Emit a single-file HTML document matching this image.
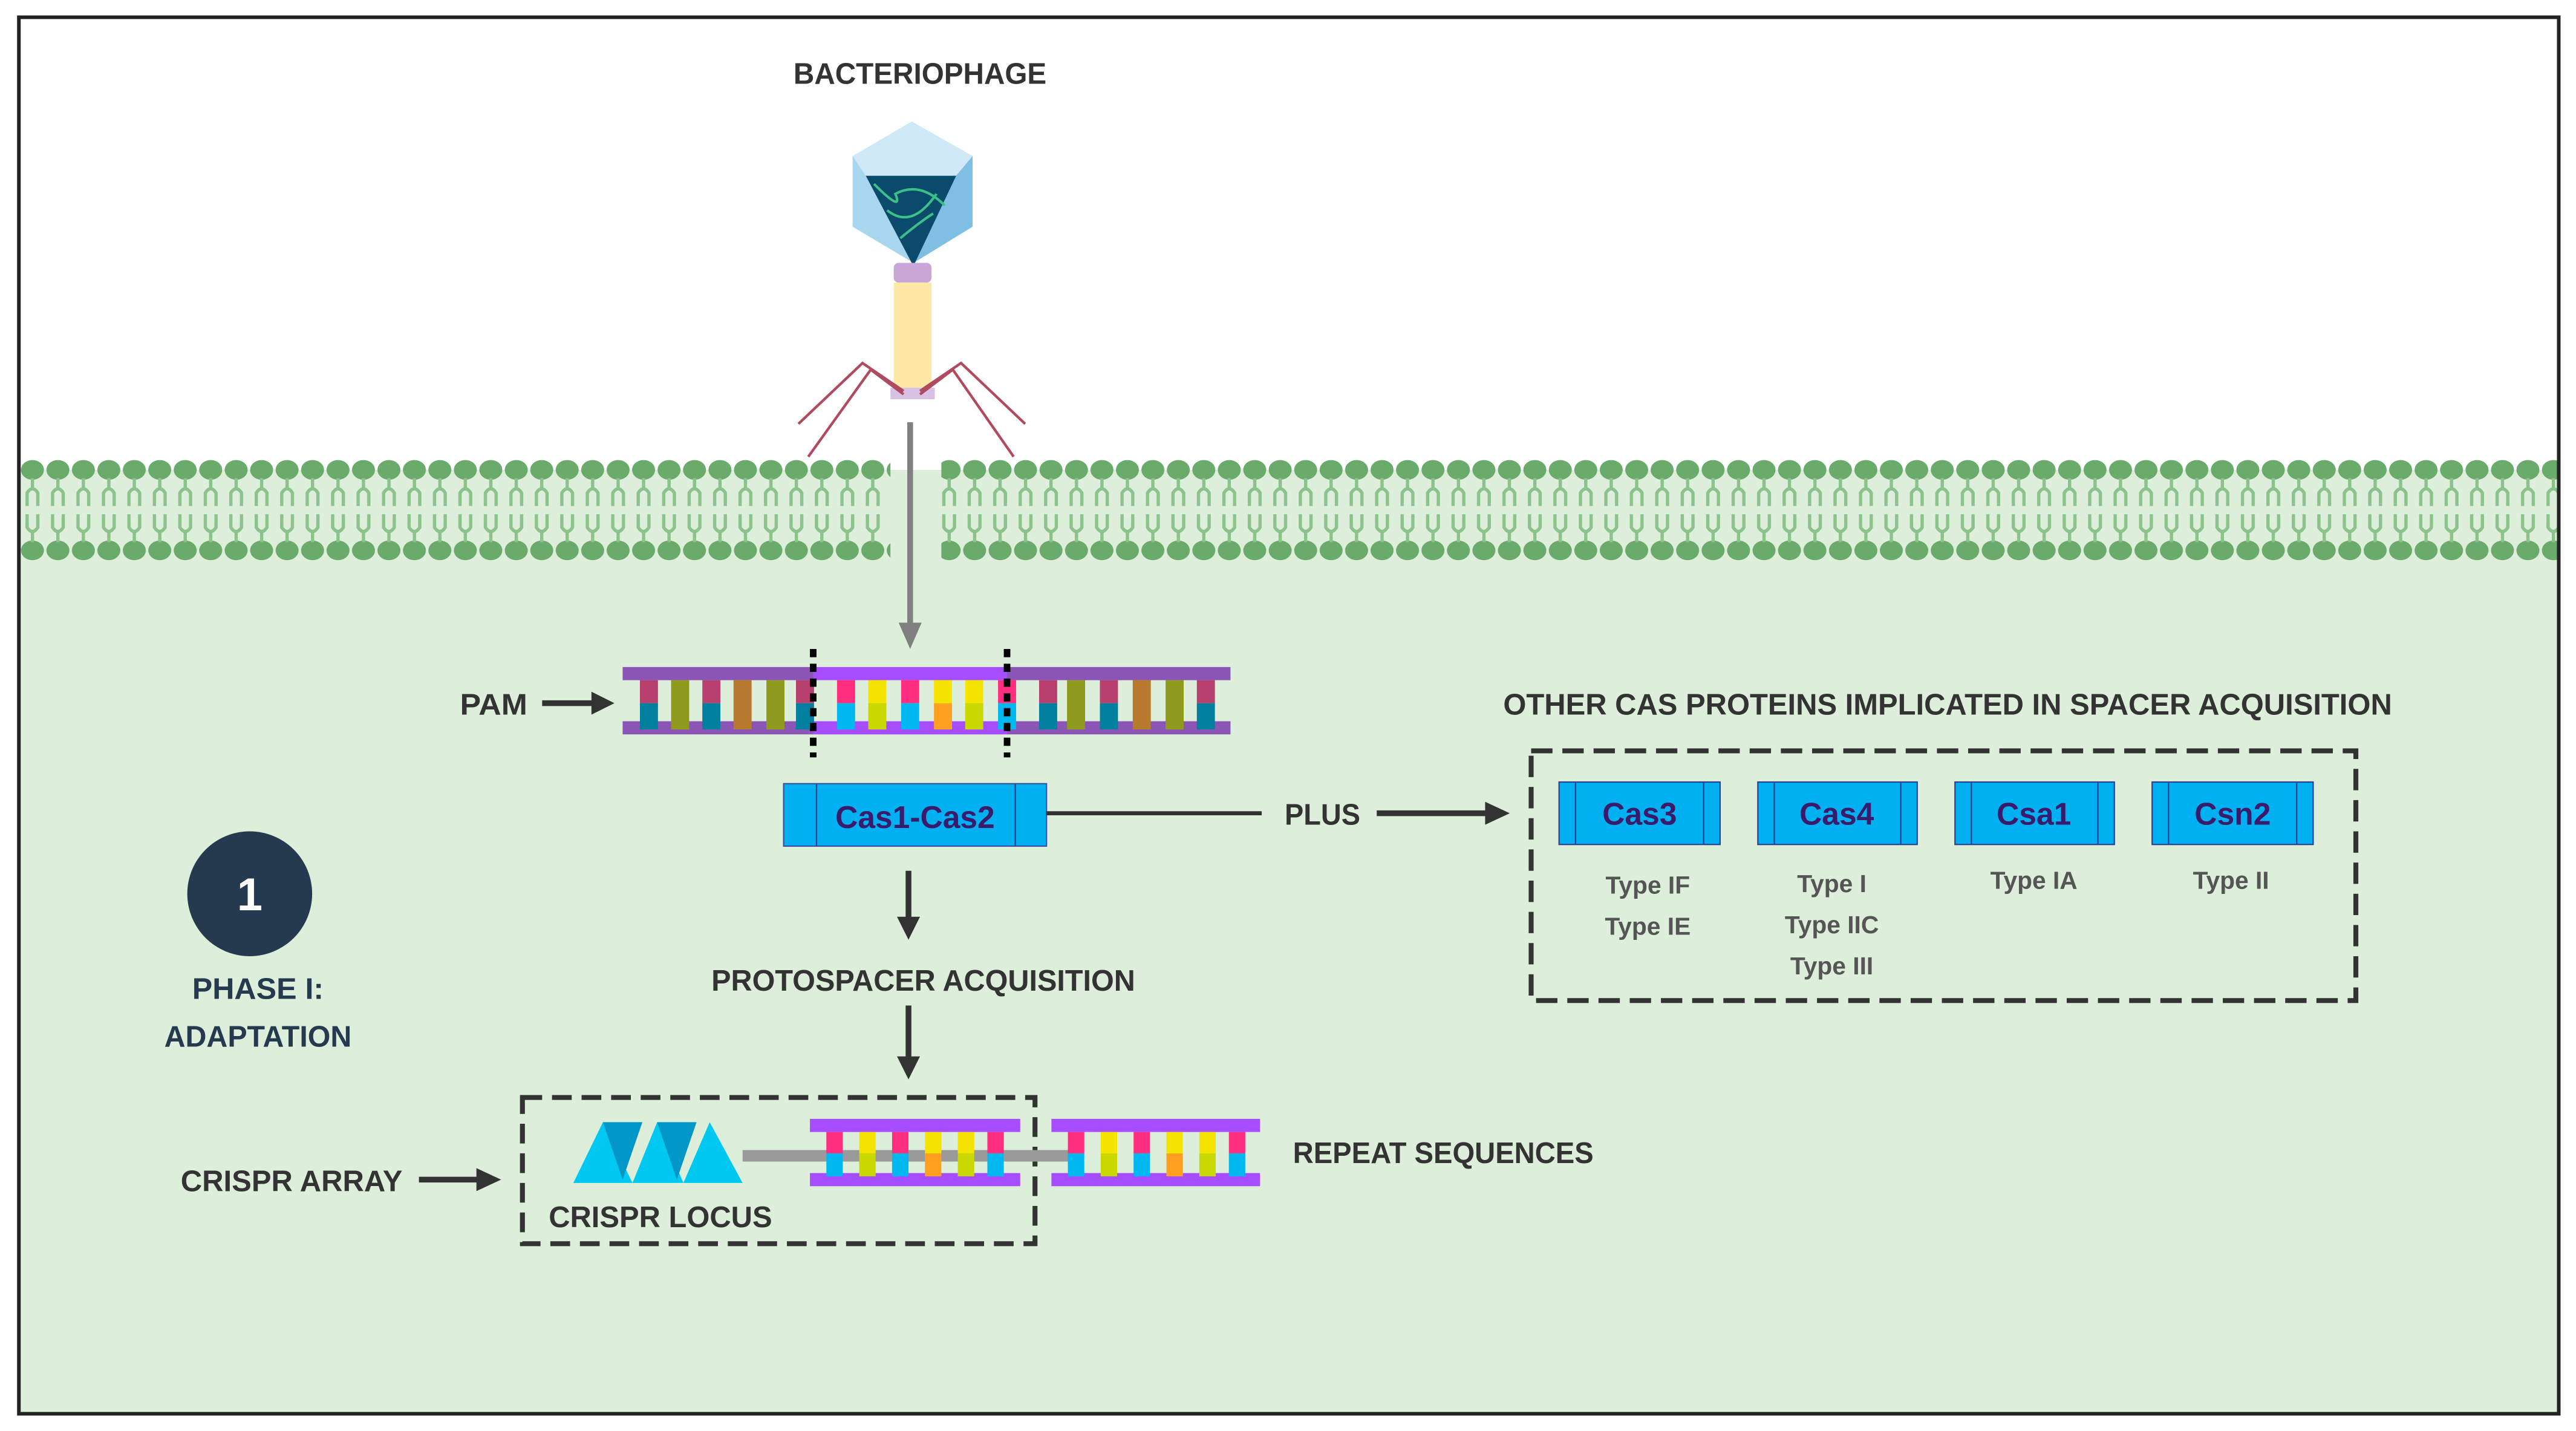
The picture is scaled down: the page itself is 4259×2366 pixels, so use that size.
<!DOCTYPE html>
<html><head><meta charset="utf-8"><style>
html,body{margin:0;padding:0;background:#fff;width:4259px;height:2366px;overflow:hidden}
svg{display:block}
text{font-family:"Liberation Sans Narrow","Liberation Sans",sans-serif;font-weight:bold}
</style></head><body>
<svg width="4259" height="2366" viewBox="0 0 1568 871" preserveAspectRatio="none" xmlns="http://www.w3.org/2000/svg">
<defs>
<pattern id="mem" patternUnits="userSpaceOnUse" x="12" y="0" width="15.5" height="871">
<g fill="#6aaa6a">
<ellipse cx="7.75" cy="286" rx="7" ry="6"/>
<ellipse cx="7.75" cy="335" rx="7" ry="6"/>
</g>
<g fill="none" stroke="#8cc28c" stroke-width="2">
<path d="M7.75 291 V297 M4.5 308 V300 Q7.75 295 11 300 V308"/>
<path d="M7.75 330 V324 M4.5 313 V321 Q7.75 326 11 321 V313"/>
</g>
</pattern>
</defs>
<rect x="0" y="0" width="1568" height="871" fill="#fff"/>
<rect x="12" y="286" width="1545" height="574" fill="#ddefda"/>
<!-- membrane -->
<rect x="12" y="278" width="530" height="65" fill="url(#mem)"/>
<rect x="573" y="278" width="984" height="65" fill="url(#mem)"/>
<!-- frame -->
<rect x="11.5" y="10.5" width="1546" height="850" fill="none" stroke="#222" stroke-width="2.2"/>

<!-- phage -->
<text x="560" y="51" font-size="18" fill="#333" text-anchor="middle" textLength="154" lengthAdjust="spacingAndGlyphs">BACTERIOPHAGE</text>
<polygon points="555,74 592,95 592,138 556,160 519,138 519,95" fill="#a9d6ef"/>
<polygon points="555,74 592,95 582,107 527,107 519,95" fill="#cfe9f7"/>
<polygon points="582,107 592,95 592,138 556,160" fill="#7fbfe3"/>
<polygon points="527,107 582,107 556,162" fill="#0a4a6a"/>
<path d="M532 112 Q550 130 545 118 Q560 110 575 125 M540 128 Q555 140 570 118 M548 145 Q560 135 568 130" stroke="#3cc08a" stroke-width="1.5" fill="none"/>
<rect x="544" y="160" width="23" height="12" rx="3" fill="#c9a6d6"/>
<rect x="544" y="172" width="23" height="64" fill="#fde8a8"/>
<rect x="542" y="236" width="27" height="7" fill="#d7c2e6"/>
<g stroke="#b04a5e" stroke-width="1.6" fill="none">
<path d="M550 238 L525 221 L486 258 M550 240 L530 225 L492 278"/>
<path d="M560 238 L585 221 L624 258 M560 240 L580 225 L617 278"/>
</g>
<!-- gray arrow -->
<line x1="554" y1="257" x2="554" y2="381" stroke="#808080" stroke-width="3.5"/>
<polygon points="547,379 561,379 554,395" fill="#808080"/>

<!-- PAM -->
<text x="280" y="435" font-size="18" fill="#333" textLength="41" lengthAdjust="spacingAndGlyphs">PAM</text>
<line x1="330" y1="428" x2="362" y2="428" stroke="#333" stroke-width="3.5"/>
<polygon points="360,421 374,428 360,435" fill="#333"/>

<!-- phage DNA -->
<rect x="379" y="406" width="116" height="8" fill="#8b55b5"/>
<rect x="379" y="439" width="116" height="8" fill="#8b55b5"/>
<rect x="495" y="406" width="118" height="8" fill="#a64dff"/>
<rect x="495" y="439" width="118" height="8" fill="#a64dff"/>
<rect x="613" y="406" width="136" height="8" fill="#8b55b5"/>
<rect x="613" y="439" width="136" height="8" fill="#8b55b5"/>
<g>
<rect x="389.5" y="414" width="11" height="14" fill="#b8406e"/><rect x="389.5" y="428" width="11" height="16" fill="#00809e"/>
<rect x="408.5" y="414" width="11" height="30" fill="#8e9a1e"/>
<rect x="427.5" y="414" width="11" height="14" fill="#b8406e"/><rect x="427.5" y="428" width="11" height="16" fill="#00809e"/>
<rect x="446.5" y="414" width="11" height="30" fill="#b87a2e"/>
<rect x="466.5" y="414" width="11" height="30" fill="#8e9a1e"/>
<rect x="484.5" y="414" width="11" height="14" fill="#b8406e"/><rect x="484.5" y="428" width="11" height="16" fill="#00809e"/>

<rect x="509.5" y="414" width="11" height="14" fill="#ff2e7e"/><rect x="509.5" y="428" width="11" height="16" fill="#00b8f0"/>
<rect x="528.5" y="414" width="11" height="14" fill="#f5e400"/><rect x="528.5" y="428" width="11" height="16" fill="#c8d800"/>
<rect x="548.5" y="414" width="11" height="14" fill="#ff2e7e"/><rect x="548.5" y="428" width="11" height="16" fill="#00b8f0"/>
<rect x="568.5" y="414" width="11" height="14" fill="#f5e400"/><rect x="568.5" y="428" width="11" height="16" fill="#ffa020"/>
<rect x="587.5" y="414" width="11" height="14" fill="#f5e400"/><rect x="587.5" y="428" width="11" height="16" fill="#c8d800"/>
<rect x="607.5" y="414" width="11" height="14" fill="#ff2e7e"/><rect x="607.5" y="428" width="11" height="16" fill="#00b8f0"/>

<rect x="632.5" y="414" width="11" height="14" fill="#b8406e"/><rect x="632.5" y="428" width="11" height="16" fill="#00809e"/>
<rect x="649.5" y="414" width="11" height="30" fill="#8e9a1e"/>
<rect x="669.5" y="414" width="11" height="14" fill="#b8406e"/><rect x="669.5" y="428" width="11" height="16" fill="#00809e"/>
<rect x="689.5" y="414" width="11" height="30" fill="#b87a2e"/>
<rect x="709.5" y="414" width="11" height="30" fill="#8e9a1e"/>
<rect x="728.5" y="414" width="11" height="14" fill="#b8406e"/><rect x="728.5" y="428" width="11" height="16" fill="#00809e"/>
</g>
<line x1="495" y1="395" x2="495" y2="461" stroke="#000" stroke-width="4" stroke-dasharray="5,4"/>
<line x1="613" y1="395" x2="613" y2="461" stroke="#000" stroke-width="4" stroke-dasharray="5,4"/>

<!-- Cas1-Cas2 -->
<rect x="477" y="477" width="160" height="38" fill="#00b0f0" stroke="#3b4fa0" stroke-width="0.8"/>
<line x1="497" y1="477" x2="497" y2="515" stroke="#2d3d90" stroke-width="0.8"/>
<line x1="618" y1="477" x2="618" y2="515" stroke="#2d3d90" stroke-width="0.8"/>
<text x="557" y="504" font-size="19" fill="#3a1a6a" text-anchor="middle" textLength="97" lengthAdjust="spacingAndGlyphs">Cas1-Cas2</text>
<line x1="637" y1="495" x2="768" y2="495" stroke="#333" stroke-width="2.5"/>
<text x="782" y="502" font-size="18" fill="#333" textLength="46" lengthAdjust="spacingAndGlyphs">PLUS</text>
<line x1="838" y1="495" x2="906" y2="495" stroke="#333" stroke-width="3.5"/>
<polygon points="904,488 919,495 904,502" fill="#333"/>

<!-- down arrows -->
<line x1="553" y1="530" x2="553" y2="560" stroke="#333" stroke-width="3.5"/>
<polygon points="546,558 560,558 553,572" fill="#333"/>
<text x="562" y="603" font-size="18" fill="#333" text-anchor="middle" textLength="258" lengthAdjust="spacingAndGlyphs">PROTOSPACER ACQUISITION</text>
<line x1="553" y1="612" x2="553" y2="645" stroke="#333" stroke-width="3.5"/>
<polygon points="546,643 560,643 553,657" fill="#333"/>

<!-- other cas -->
<text x="915" y="435" font-size="18" fill="#333" textLength="541" lengthAdjust="spacingAndGlyphs">OTHER CAS PROTEINS IMPLICATED IN SPACER ACQUISITION</text>
<rect x="932" y="457" width="502" height="152" fill="none" stroke="#333" stroke-width="3" stroke-dasharray="13,6"/>
<g stroke="#2d3d90" stroke-width="0.8">
<rect x="949" y="476" width="98" height="38" fill="#00b0f0"/><line x1="959" y1="476" x2="959" y2="514"/><line x1="1037" y1="476" x2="1037" y2="514"/>
<rect x="1070" y="476" width="97" height="38" fill="#00b0f0"/><line x1="1080" y1="476" x2="1080" y2="514"/><line x1="1157" y1="476" x2="1157" y2="514"/>
<rect x="1190" y="476" width="97" height="38" fill="#00b0f0"/><line x1="1200" y1="476" x2="1200" y2="514"/><line x1="1277" y1="476" x2="1277" y2="514"/>
<rect x="1310" y="476" width="98" height="38" fill="#00b0f0"/><line x1="1320" y1="476" x2="1320" y2="514"/><line x1="1398" y1="476" x2="1398" y2="514"/>
</g>
<g font-size="19" fill="#3a1a6a" text-anchor="middle">
<text x="998" y="502">Cas3</text>
<text x="1118" y="502">Cas4</text>
<text x="1238" y="502">Csa1</text>
<text x="1359" y="502">Csn2</text>
</g>
<g font-size="15" fill="#555" text-anchor="middle" font-weight="normal">
<text x="1003" y="544">Type IF</text>
<text x="1003" y="569">Type IE</text>
<text x="1115" y="543">Type I</text>
<text x="1115" y="568">Type IIC</text>
<text x="1115" y="593">Type III</text>
<text x="1238" y="541">Type IA</text>
<text x="1358" y="541">Type II</text>
</g>

<!-- phase -->
<circle cx="152" cy="544" r="38" fill="#253a4e"/>
<text x="152" y="554" font-size="28" fill="#fff" text-anchor="middle">1</text>
<text x="157" y="608" font-size="18" fill="#253a4e" text-anchor="middle" textLength="80" lengthAdjust="spacingAndGlyphs">PHASE I:</text>
<text x="157" y="637" font-size="18" fill="#253a4e" text-anchor="middle" textLength="114" lengthAdjust="spacingAndGlyphs">ADAPTATION</text>

<!-- CRISPR array -->
<text x="110" y="725" font-size="18" fill="#333" textLength="135" lengthAdjust="spacingAndGlyphs">CRISPR ARRAY</text>
<line x1="255" y1="718" x2="292" y2="718" stroke="#333" stroke-width="3.5"/>
<polygon points="290,711 305,718 290,725" fill="#333"/>
<rect x="318" y="668" width="312" height="89" fill="none" stroke="#333" stroke-width="3" stroke-dasharray="12,6"/>
<rect x="452" y="700" width="200" height="7" fill="#9a9a9a"/>
<g>
<polygon points="349,720 367,683 385,720" fill="#00c8f0"/>
<polygon points="367,683 391,683 379,718" fill="#0096c8"/>
<polygon points="385,720 400,683 416,720" fill="#00c8f0"/>
<polygon points="400,683 424,683 412,718" fill="#0096c8"/>
<polygon points="416,720 432,683 452,720" fill="#00c8f0"/>
</g>
<text x="334" y="747" font-size="18" fill="#333" textLength="136" lengthAdjust="spacingAndGlyphs">CRISPR LOCUS</text>
<rect x="493" y="681" width="128" height="8" fill="#a64dff"/>
<rect x="493" y="714" width="128" height="8" fill="#a64dff"/>
<rect x="640" y="681" width="127" height="8" fill="#a64dff"/>
<rect x="640" y="714" width="127" height="8" fill="#a64dff"/>
<g>
<rect x="503" y="689" width="10" height="13" fill="#ff2e7e"/><rect x="503" y="702" width="10" height="14" fill="#00b8f0"/>
<rect x="523" y="689" width="10" height="13" fill="#f5e400"/><rect x="523" y="702" width="10" height="14" fill="#c8d800"/>
<rect x="543" y="689" width="10" height="13" fill="#ff2e7e"/><rect x="543" y="702" width="10" height="14" fill="#00b8f0"/>
<rect x="563" y="689" width="10" height="13" fill="#f5e400"/><rect x="563" y="702" width="10" height="14" fill="#ffa020"/>
<rect x="583" y="689" width="10" height="13" fill="#f5e400"/><rect x="583" y="702" width="10" height="14" fill="#c8d800"/>
<rect x="601" y="689" width="10" height="13" fill="#ff2e7e"/><rect x="601" y="702" width="10" height="14" fill="#00b8f0"/>
<rect x="650" y="689" width="10" height="13" fill="#ff2e7e"/><rect x="650" y="702" width="10" height="14" fill="#00b8f0"/>
<rect x="670" y="689" width="10" height="13" fill="#f5e400"/><rect x="670" y="702" width="10" height="14" fill="#c8d800"/>
<rect x="690" y="689" width="10" height="13" fill="#ff2e7e"/><rect x="690" y="702" width="10" height="14" fill="#00b8f0"/>
<rect x="710" y="689" width="10" height="13" fill="#f5e400"/><rect x="710" y="702" width="10" height="14" fill="#ffa020"/>
<rect x="730" y="689" width="10" height="13" fill="#f5e400"/><rect x="730" y="702" width="10" height="14" fill="#c8d800"/>
<rect x="748" y="689" width="10" height="13" fill="#ff2e7e"/><rect x="748" y="702" width="10" height="14" fill="#00b8f0"/>
</g>
<text x="787" y="708" font-size="18" fill="#333" textLength="183" lengthAdjust="spacingAndGlyphs">REPEAT SEQUENCES</text>
</svg>
</body></html>
